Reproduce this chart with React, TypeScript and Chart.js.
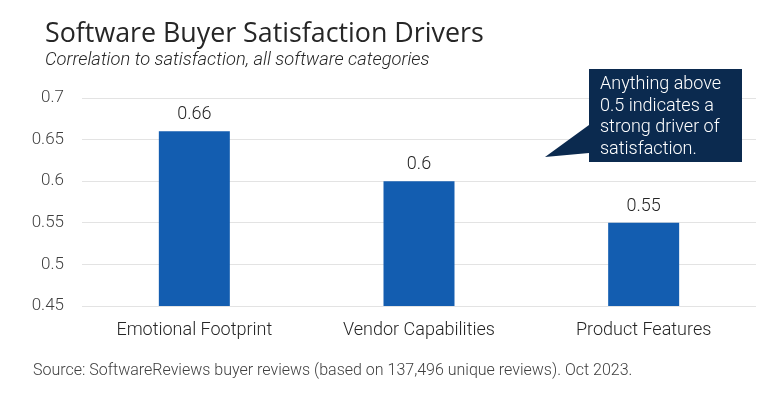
import React, { useEffect, useRef } from "react";
import { Chart, registerables } from "chart.js";

Chart.register(...registerables);

const categories = ["Emotional Footprint", "Vendor Capabilities", "Product Features"];
const correlation = [0.66, 0.6, 0.55];
const yTickValues = [0.45, 0.5, 0.55, 0.6, 0.65, 0.7];
const titleText = "Software Buyer Satisfaction Drivers";
const subtitleText = "Correlation to satisfaction, all software categories";
const sourceText = "Source: SoftwareReviews buyer reviews (based on 137,496 unique reviews). Oct 2023.";
const calloutLines = ["Anything above", "0.5 indicates a", "strong driver of", "satisfaction."];

const W = 783;
const H = 393;

const decorPlugin = {
  id: "decor",
  afterDatasetsDraw(chart: any) {
    const ctx = chart.ctx;
    const meta = chart.getDatasetMeta(0);
    ctx.save();
    ctx.font = "300 18px Roboto";
    ctx.fillStyle = "#262626";
    ctx.textAlign = "center";
    ctx.textBaseline = "alphabetic";
    meta.data.forEach((bar: any, i: number) => {
      ctx.fillText(String(correlation[i]), bar.x, bar.y - 12);
    });
    ctx.restore();
  },
  afterDraw(chart: any) {
    const ctx = chart.ctx;
    ctx.save();
    ctx.textAlign = "left";
    ctx.textBaseline = "alphabetic";
    ctx.fillStyle = "#262626";
    ctx.font = "400 26.8px 'Open Sans'";
    ctx.fillText(titleText, 45, 42);
    ctx.font = "italic 300 18.3px Roboto";
    ctx.fillStyle = "#262626";
    ctx.fillText(subtitleText, 45, 65);
    ctx.font = "300 16px Roboto";
    ctx.fillStyle = "#404040";
    ctx.fillText(sourceText, 33, 375);

    const bx = 589, by = 69, bw = 153, bh = 93;
    ctx.fillStyle = "#0b2a4f";
    ctx.beginPath();
    ctx.moveTo(bx, by);
    ctx.lineTo(bx + bw, by);
    ctx.lineTo(bx + bw, by + bh);
    ctx.lineTo(bx, by + bh);
    ctx.lineTo(bx, by + 84);
    ctx.lineTo(545, 157);
    ctx.lineTo(bx, by + 56);
    ctx.closePath();
    ctx.fill();
    ctx.fillStyle = "#ffffff";
    ctx.font = "300 18px Roboto";
    calloutLines.forEach((line, i) => {
      ctx.fillText(line, 600, 89 + i * 21.5);
    });
    ctx.restore();
  },
};

export default function App() {
  const ref = useRef<HTMLCanvasElement | null>(null);

  useEffect(() => {
    if (!ref.current) return;
    const chart = new Chart(ref.current, {
      type: "bar",
      data: {
        labels: categories,
        datasets: [
          {
            data: correlation,
            backgroundColor: "#135db0",
            barPercentage: 0.316,
            categoryPercentage: 1,
          },
        ],
      },
      options: {
        animation: false,
        responsive: false,
        maintainAspectRatio: false,
        layout: { padding: { top: 98, right: 27, bottom: 0, left: 0 } },
        plugins: {
          legend: { display: false },
          tooltip: { enabled: false },
          title: { display: false },
        },
        scales: {
          x: {
            grid: { display: false },
            border: { display: false },
            ticks: {
              color: "#262626",
              font: { family: "Roboto", size: 18, weight: "300" },
              padding: 6,
              maxRotation: 0,
            },
            afterFit(scale: any) {
              scale.height = 87;
            },
          },
          y: {
            min: 0.45,
            max: 0.7,
            afterBuildTicks(scale: any) {
              scale.ticks = yTickValues.map((v) => ({ value: v }));
            },
            grid: { color: "#e3e3e3", drawTicks: false, lineWidth: 1 },
            border: { display: false },
            ticks: {
              color: "#404040",
              font: { family: "Roboto", size: 17, weight: "300" },
              padding: 18,
              callback: (v: any) => String(Number(Number(v).toFixed(2))),
            },
            afterFit(scale: any) {
              scale.width = 82;
            },
          },
        },
      },
      plugins: [decorPlugin],
    });
    return () => chart.destroy();
  }, []);

  return (
    <div style={{ position: "fixed", left: 0, top: 0, width: W, height: H, background: "#ffffff" }}>
      <canvas ref={ref} width={W} height={H} style={{ width: W, height: H }} />
    </div>
  );
}
